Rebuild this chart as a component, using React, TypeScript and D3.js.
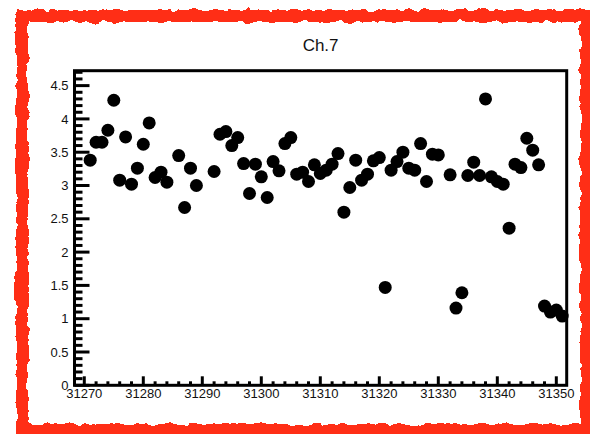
import React from "react";
import * as d3 from "d3";

const runs: number[] = [
  31271, 31272, 31273, 31274, 31275, 31276, 31277, 31278, 31279, 31280,
  31281, 31282, 31283, 31284, 31286, 31287, 31288, 31289, 31292, 31293,
  31294, 31295, 31296, 31297, 31298, 31299, 31300, 31301, 31302, 31303,
  31304, 31305, 31306, 31307, 31308, 31309, 31310, 31311, 31312, 31313,
  31314, 31315, 31316, 31317, 31318, 31319, 31320, 31321, 31322, 31323,
  31324, 31325, 31326, 31327, 31328, 31329, 31330, 31332, 31333, 31334,
  31335, 31336, 31337, 31338, 31339, 31340, 31341, 31342, 31343, 31344,
  31345, 31346, 31347, 31348, 31349, 31350, 31351,
];

const values: number[] = [
  3.38, 3.65, 3.65, 3.83, 4.28, 3.08, 3.73, 3.02, 3.26, 3.62,
  3.94, 3.12, 3.2, 3.05, 3.45, 2.67, 3.26, 3.0, 3.21, 3.77,
  3.81, 3.6, 3.72, 3.33, 2.88, 3.32, 3.13, 2.82, 3.36, 3.22,
  3.63, 3.72, 3.17, 3.2, 3.06, 3.31, 3.18, 3.23, 3.32, 3.48,
  2.6, 2.97, 3.38, 3.08, 3.17, 3.37, 3.42, 1.47, 3.23, 3.36,
  3.5, 3.26, 3.23, 3.63, 3.06, 3.47, 3.46, 3.16, 1.16, 1.39,
  3.15, 3.35, 3.15, 4.3, 3.13, 3.06, 3.02, 2.36, 3.32, 3.27,
  3.71, 3.53, 3.31, 1.19, 1.1, 1.13, 1.04,
];

const title = "Ch.7";
const xDomain: [number, number] = [31268.34, 31351.76];
const yDomain: [number, number] = [0, 4.724];
const xMajorTicks: number[] = [31270, 31280, 31290, 31300, 31310, 31320, 31330, 31340, 31350];
const yMajorTicks: number[] = [0, 0.5, 1, 1.5, 2, 2.5, 3, 3.5, 4, 4.5];
const yTickLabels: string[] = ["0", "0.5", "1", "1.5", "2", "2.5", "3", "3.5", "4", "4.5"];

const W = 590;
const H = 434;
const L = 74.5;
const R = 566.7;
const T = 70.7;
const B = 385.3;
const FONT = "'Liberation Sans', Arial, Helvetica, sans-serif";

export default function App() {
  const x = d3.scaleLinear().domain(xDomain).range([L, R]);
  const y = d3.scaleLinear().domain(yDomain).range([B, T]);

  const yMinor = d3.range(0, yDomain[1], 0.1).filter(
    (v) => Math.abs(v * 2 - Math.round(v * 2)) > 1e-6
  );
  const xMinor = d3
    .range(31268, xDomain[1], 2)
    .filter((v) => v >= xDomain[0] && v % 10 !== 0);

  return (
    <svg
      width={W}
      height={H}
      style={{ position: "absolute", left: 0, top: 0, background: "#fff" }}
    >
      <defs>
        <filter id="rough" x="-5%" y="-5%" width="110%" height="110%">
          <feTurbulence type="fractalNoise" baseFrequency="0.09" numOctaves={3} seed={3} result="n" />
          <feDisplacementMap in="SourceGraphic" in2="n" scale={7} xChannelSelector="R" yChannelSelector="G" />
        </filter>
      </defs>
      <rect x={0} y={0} width={W} height={H} fill="#fff" />
      {/* hand-drawn red border */}
      <rect
        x={22}
        y={16}
        width={564}
        height={414}
        fill="none"
        stroke="#ff2d12"
        strokeWidth={12}
        filter="url(#rough)"
      />

      {/* title */}
      <text
        x={(L + R) / 2}
        y={51}
        textAnchor="middle"
        fontFamily={FONT}
        fontSize={17}
        fill="#111"
      >
        {title}
      </text>

      {/* points */}
      {runs.map((r, i) => (
        <circle key={r} cx={x(r)} cy={y(values[i])} r={6.5} fill="#000" />
      ))}

      {/* frame */}
      <rect x={L} y={T} width={R - L} height={B - T} fill="none" stroke="#000" strokeWidth={3} />

      {/* y ticks */}
      {yMinor.map((v) => (
        <line key={"ym" + v} x1={L} x2={L + 8} y1={y(v)} y2={y(v)} stroke="#000" strokeWidth={3} />
      ))}
      {yMajorTicks.map((v) => (
        <line key={"yM" + v} x1={L} x2={L + 15} y1={y(v)} y2={y(v)} stroke="#000" strokeWidth={3} />
      ))}
      {yMajorTicks.map((v, i) => (
        <text
          key={"yl" + v}
          x={68.5}
          y={y(v) + 4.6}
          textAnchor="end"
          fontFamily={FONT}
          fontSize={13}
          fill="#111"
        >
          {yTickLabels[i]}
        </text>
      ))}

      {/* x ticks */}
      {xMinor.map((v) => (
        <line key={"xm" + v} x1={x(v)} x2={x(v)} y1={B} y2={B - 4} stroke="#000" strokeWidth={3} />
      ))}
      {xMajorTicks.map((v) => (
        <line key={"xM" + v} x1={x(v)} x2={x(v)} y1={B} y2={B - 9} stroke="#000" strokeWidth={3} />
      ))}
      {xMajorTicks.map((v) => (
        <text
          key={"xl" + v}
          x={x(v)}
          y={397.5}
          textAnchor="middle"
          fontFamily={FONT}
          fontSize={13}
          fill="#111"
        >
          {String(v)}
        </text>
      ))}
    </svg>
  );
}
